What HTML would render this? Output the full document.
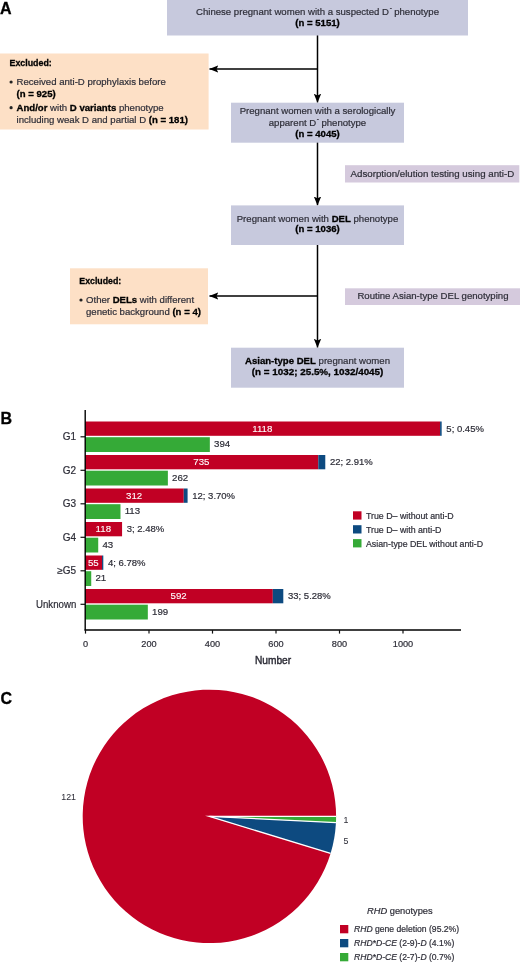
<!DOCTYPE html>
<html>
<head>
<meta charset="utf-8">
<style>
html,body{margin:0;padding:0;background:#fff;}
body{width:520px;height:962px;overflow:hidden;}
svg{display:block;}
text{font-family:"Liberation Sans",sans-serif;fill:#2e2e38;stroke:#2e2e38;stroke-width:0.2px;}
.b{font-weight:bold;fill:#000;stroke:#000;stroke-width:0.3px;}
.lab{font-weight:bold;font-size:16px;fill:#000;stroke:#000;stroke-width:0.3px;}
.fc{font-size:9.6px;}
.ctr{text-anchor:middle;}
.it{font-style:italic;}
.bl{font-size:9.7px;}
.cat{font-size:10px;}
.pc{font-size:9.5px;}
.tk{font-size:9.2px;}
.ax{font-size:11.5px;stroke-width:0.45px;}
.lg{font-size:8.8px;}
.pl{font-size:8.8px;stroke-width:0.05px;}
.lg2{font-size:9.3px;}
.lg3{font-size:8.6px;}
</style>
</head>
<body>
<svg width="520" height="962" viewBox="0 0 520 962">
<defs>
<marker id="ah" viewBox="0 0 9 8" refX="8.8" refY="4" markerWidth="9" markerHeight="8" markerUnits="userSpaceOnUse" orient="auto">
<path d="M0,0.3 L9,4 L0,7.7 L1.8,4 Z" fill="#000"/>
</marker>
</defs>

<!-- ============ PANEL A ============ -->
<text class="lab" x="0" y="14.4">A</text>

<!-- connector lines -->
<g stroke="#000" stroke-width="1.5" fill="none">
<line x1="317.5" y1="35" x2="317.5" y2="102.5" marker-end="url(#ah)"/>
<line x1="317.5" y1="69" x2="209.5" y2="69" marker-end="url(#ah)"/>
<line x1="317.5" y1="142" x2="317.5" y2="205.3" marker-end="url(#ah)"/>
<line x1="317.5" y1="245" x2="317.5" y2="347.6" marker-end="url(#ah)"/>
<line x1="317.5" y1="296" x2="209.5" y2="296" marker-end="url(#ah)"/>
</g>

<!-- box 1 -->
<rect x="167" y="0" width="301" height="35.5" fill="#c7c9dd"/>
<text class="fc ctr" x="317.5" y="15">Chinese pregnant women with a suspected D<tspan dx="0.6" dy="-4.6" font-size="6.5">-</tspan><tspan dy="4.6" dx="-0.3"> phenotype</tspan></text>
<text class="fc ctr b" x="317.5" y="25.8">(n = 5151)</text>

<!-- excluded 1 -->
<rect x="0" y="53.5" width="208.6" height="76" fill="#fde0c6"/>
<text class="fc b" x="9.5" y="65.8" textLength="42.3" lengthAdjust="spacingAndGlyphs">Excluded:</text>
<circle cx="11.1" cy="82" r="1.6" fill="#222"/>
<text class="fc" x="16.5" y="85">Received anti-D prophylaxis before</text>
<text class="fc b" x="16.5" y="96.8">(n = 925)</text>
<circle cx="11.1" cy="107.7" r="1.6" fill="#222"/>
<text class="fc" x="16.5" y="110.8"><tspan class="b">And/or</tspan> with <tspan class="b">D variants</tspan> phenotype</text>
<text class="fc" x="16.5" y="122.5">including weak D and partial D <tspan class="b">(n = 181)</tspan></text>

<!-- box 2 -->
<rect x="231" y="102.7" width="173" height="40" fill="#c7c9dd"/>
<text class="fc ctr" x="317.5" y="114">Pregnant women with a serologically</text>
<text class="fc ctr" x="317.5" y="126">apparent D<tspan dx="0.6" dy="-4.6" font-size="6.5">-</tspan><tspan dy="4.6" dx="-0.3"> phenotype</tspan></text>
<text class="fc ctr b" x="317.5" y="137">(n = 4045)</text>

<!-- adsorption -->
<rect x="345" y="165.2" width="174.3" height="17.3" fill="#d5cadd"/>
<text class="fc" x="350.6" y="176.8" textLength="163.6" lengthAdjust="spacingAndGlyphs">Adsorption/elution testing using anti-D</text>

<!-- box 3 -->
<rect x="231" y="205.4" width="173" height="39.6" fill="#c7c9dd"/>
<text class="fc ctr" x="317.5" y="222">Pregnant women with <tspan class="b">DEL</tspan> phenotype</text>
<text class="fc ctr b" x="317.5" y="232.3">(n = 1036)</text>

<!-- excluded 2 -->
<rect x="70" y="268.3" width="138" height="56" fill="#fde0c6"/>
<text class="fc b" x="79.3" y="284" textLength="42" lengthAdjust="spacingAndGlyphs">Excluded:</text>
<circle cx="81" cy="300" r="1.6" fill="#222"/>
<text class="fc" x="86" y="303">Other <tspan class="b">DELs</tspan> with different</text>
<text class="fc" x="86" y="314.5">genetic background <tspan class="b">(n = 4)</tspan></text>

<!-- routine -->
<rect x="345" y="288.3" width="175" height="16.7" fill="#d5cadd"/>
<text class="fc" x="357.4" y="299.2">Routine Asian-type DEL genotyping</text>

<!-- box 4 -->
<rect x="231" y="347.7" width="173" height="40" fill="#c7c9dd"/>
<text class="fc ctr" x="317.5" y="364.2"><tspan class="b">Asian-type DEL</tspan> pregnant women</text>
<text class="fc ctr b" x="317.6" y="375.4" textLength="131.5" lengthAdjust="spacingAndGlyphs">(n = 1032; 25.5%, 1032/4045)</text>

<!-- ============ PANEL B ============ -->
<text class="lab" x="0.5" y="424">B</text>
<g>
<rect x="85" y="421.50" width="355.07" height="14.30" fill="#c10024"/>
<rect x="440.07" y="421.50" width="1.59" height="14.30" fill="#0d4a80"/>
<rect x="85" y="437.20" width="124.84" height="14.80" fill="#35aa37"/>
<text class="bl ctr" x="262.31" y="431.70" style="fill:#fff;stroke:#fff;stroke-width:0.1px">1118</text>
<text class="pc" x="446.36" y="431.80">5; 0.45%</text>
<text class="bl" x="214.04" y="447.10">394</text>
<line x1="80.5" y1="436.80" x2="85" y2="436.80" stroke="#111" stroke-width="1.2"/>
<text class="cat" x="76" y="440.20" text-anchor="end">G1</text>
<rect x="85" y="455.00" width="233.28" height="14.30" fill="#c10024"/>
<rect x="318.28" y="455.00" width="7.00" height="14.30" fill="#0d4a80"/>
<rect x="85" y="470.70" width="82.87" height="14.80" fill="#35aa37"/>
<text class="bl ctr" x="201.41" y="465.20" style="fill:#fff;stroke:#fff;stroke-width:0.1px">735</text>
<text class="pc" x="329.98" y="465.30">22; 2.91%</text>
<text class="bl" x="172.07" y="480.60">262</text>
<line x1="80.5" y1="470.30" x2="85" y2="470.30" stroke="#111" stroke-width="1.2"/>
<text class="cat" x="76" y="473.70" text-anchor="end">G2</text>
<rect x="85" y="488.50" width="98.77" height="14.30" fill="#c10024"/>
<rect x="183.77" y="488.50" width="3.82" height="14.30" fill="#0d4a80"/>
<rect x="85" y="504.20" width="35.48" height="14.80" fill="#35aa37"/>
<text class="bl ctr" x="134.16" y="498.70" style="fill:#fff;stroke:#fff;stroke-width:0.1px">312</text>
<text class="pc" x="192.28" y="498.80">12; 3.70%</text>
<text class="bl" x="124.68" y="514.10">113</text>
<line x1="80.5" y1="503.80" x2="85" y2="503.80" stroke="#111" stroke-width="1.2"/>
<text class="cat" x="76" y="507.20" text-anchor="end">G3</text>
<rect x="85" y="522.00" width="37.07" height="14.30" fill="#c10024"/>
<rect x="85" y="537.70" width="13.22" height="14.80" fill="#35aa37"/>
<text class="bl ctr" x="103.31" y="532.20" style="fill:#fff;stroke:#fff;stroke-width:0.1px">118</text>
<text class="pc" x="126.77" y="532.30">3; 2.48%</text>
<text class="bl" x="102.42" y="547.60">43</text>
<line x1="80.5" y1="537.30" x2="85" y2="537.30" stroke="#111" stroke-width="1.2"/>
<text class="cat" x="76" y="540.70" text-anchor="end">G4</text>
<rect x="85" y="555.50" width="17.04" height="14.30" fill="#c10024"/>
<rect x="102.04" y="555.50" width="1.27" height="14.30" fill="#0d4a80"/>
<rect x="85" y="571.20" width="6.23" height="14.80" fill="#35aa37"/>
<text class="bl ctr" x="93.30" y="565.70" style="fill:#fff;stroke:#fff;stroke-width:0.1px">55</text>
<text class="pc" x="108.01" y="565.80">4; 6.78%</text>
<text class="bl" x="95.43" y="581.10">21</text>
<line x1="80.5" y1="570.80" x2="85" y2="570.80" stroke="#111" stroke-width="1.2"/>
<text class="cat" x="76" y="574.20" text-anchor="end">≥G5</text>
<rect x="85" y="589.00" width="187.81" height="14.30" fill="#c10024"/>
<rect x="272.81" y="589.00" width="10.49" height="14.30" fill="#0d4a80"/>
<rect x="85" y="604.70" width="62.83" height="14.80" fill="#35aa37"/>
<text class="bl ctr" x="178.68" y="599.20" style="fill:#fff;stroke:#fff;stroke-width:0.1px">592</text>
<text class="pc" x="288.00" y="599.30">33; 5.28%</text>
<text class="bl" x="152.03" y="614.60">199</text>
<line x1="80.5" y1="604.30" x2="85" y2="604.30" stroke="#111" stroke-width="1.2"/>
<text class="cat" x="36" y="607.70" textLength="40.3" lengthAdjust="spacingAndGlyphs">Unknown</text>
<line x1="85.2" y1="410" x2="85.2" y2="630.6" stroke="#000" stroke-width="1.4"/>
<line x1="84.6" y1="630" x2="461" y2="630" stroke="#000" stroke-width="1.4"/>
<line x1="85.50" y1="630" x2="85.50" y2="633.6" stroke="#111" stroke-width="1.2"/>
<text class="tk ctr" x="85.50" y="646.8">0</text>
<line x1="149.00" y1="630" x2="149.00" y2="633.6" stroke="#111" stroke-width="1.2"/>
<text class="tk ctr" x="149.00" y="646.8">200</text>
<line x1="212.50" y1="630" x2="212.50" y2="633.6" stroke="#111" stroke-width="1.2"/>
<text class="tk ctr" x="212.50" y="646.8">400</text>
<line x1="276.00" y1="630" x2="276.00" y2="633.6" stroke="#111" stroke-width="1.2"/>
<text class="tk ctr" x="276.00" y="646.8">600</text>
<line x1="339.50" y1="630" x2="339.50" y2="633.6" stroke="#111" stroke-width="1.2"/>
<text class="tk ctr" x="339.50" y="646.8">800</text>
<line x1="403.00" y1="630" x2="403.00" y2="633.6" stroke="#111" stroke-width="1.2"/>
<text class="tk ctr" x="403.00" y="646.8">1000</text>
<text class="ax ctr" transform="translate(273,664) scale(0.886,1)" x="0" y="0">Number</text>
<rect x="353" y="511.30" width="8.5" height="8.3" fill="#c10024"/>
<text class="lg" x="366" y="518.70">True D– without anti-D</text>
<rect x="353" y="525.20" width="8.5" height="8.3" fill="#0d4a80"/>
<text class="lg" x="366" y="532.60">True D– with anti-D</text>
<rect x="353" y="539.10" width="8.5" height="8.3" fill="#35aa37"/>
<text class="lg" x="366" y="546.50">Asian-type DEL without anti-D</text>
</g>

<!-- ============ PANEL C ============ -->
<text class="lab" x="0.5" y="704">C</text>
<g>
<path d="M209.4,816.4 L330.56,853.46 A126.7,126.7 0 1 1 336.10,816.40 Z" fill="#c10024"/>
<path d="M209.4,816.4 L336.10,816.40 A126.7,126.7 0 0 1 335.94,822.67 Z" fill="#35aa37"/>
<path d="M209.4,816.4 L335.94,822.67 A126.7,126.7 0 0 1 330.56,853.46 Z" fill="#0d4a80"/>
<path d="M336.10,816.40 L209.4,816.4 L330.56,853.46" fill="none" stroke="#fff" stroke-width="1.3" stroke-linejoin="miter" stroke-miterlimit="20"/>
<path d="M209.4,816.4 L335.94,822.67" fill="none" stroke="#fff" stroke-width="1.3"/>
<text class="pl" x="61.3" y="800">121</text>
<text class="pl" x="343.6" y="822.7">1</text>
<text class="pl" x="343.4" y="843.8">5</text>
<text class="lg2" x="367" y="913.6"><tspan class="it">RHD</tspan> genotypes</text>
<rect x="340" y="925.00" width="8.3" height="8.3" fill="#c10024"/>
<text class="lg3" x="354" y="932.20"><tspan class="it">RHD</tspan> gene deletion (95.2%)</text>
<rect x="340" y="939.00" width="8.3" height="8.3" fill="#0d4a80"/>
<text class="lg3" x="354" y="946.20"><tspan class="it">RHD*D-CE</tspan> (2-9)-<tspan class="it">D</tspan> (4.1%)</text>
<rect x="340" y="953.00" width="8.3" height="8.3" fill="#35aa37"/>
<text class="lg3" x="354" y="960.20"><tspan class="it">RHD*D-CE</tspan> (2-7)-<tspan class="it">D</tspan> (0.7%)</text>
</g>

</svg>
</body>
</html>
